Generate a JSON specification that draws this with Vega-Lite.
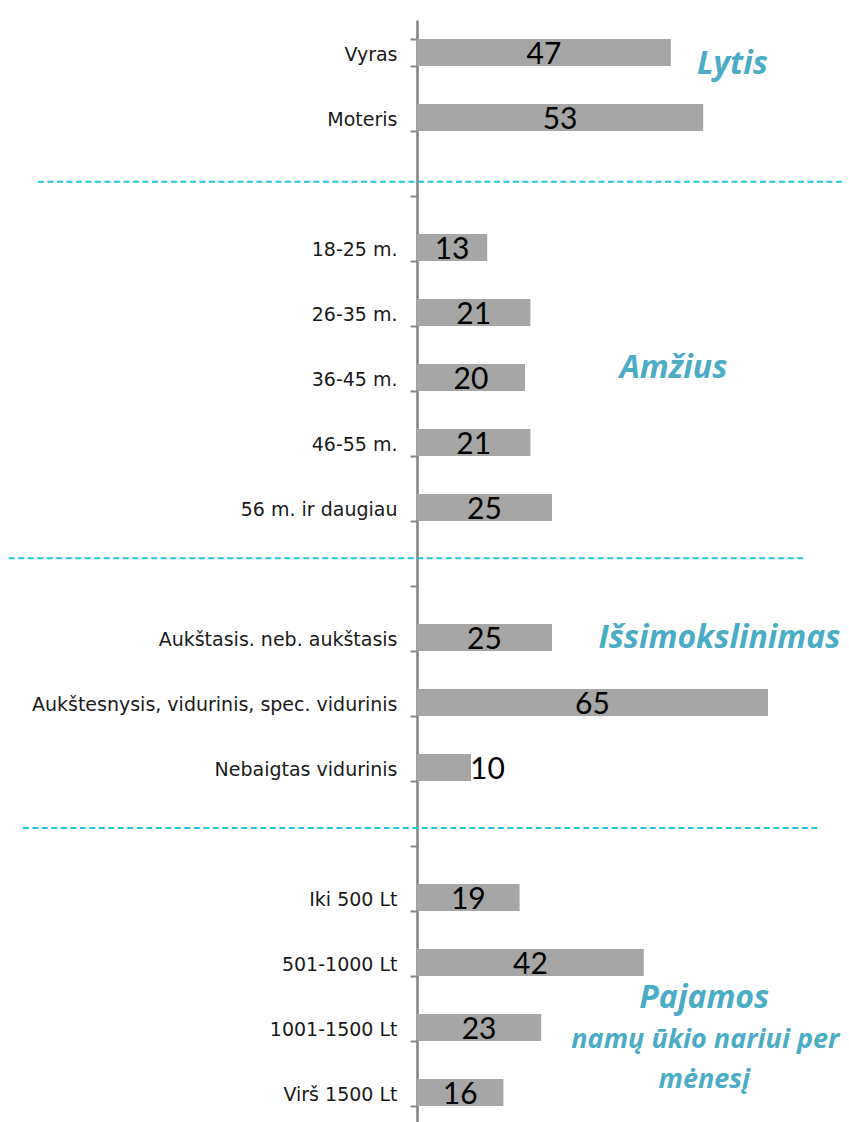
{
  "$schema": "https://vega.github.io/schema/vega-lite/v6.json",
  "autosize": {"type": "none"},
  "padding": {"left": 417, "top": 20, "right": 0, "bottom": 0},
  "width": 432,
  "height": 1105,
  "background": "white",
  "config": {"view": {"stroke": null}, "font": "Lato"},
  "datasets": {
    "bars": [
      {"cat": "Vyras", "value": 47},
      {"cat": "Moteris", "value": 53},
      {"cat": "18-25 m.", "value": 13},
      {"cat": "26-35 m.", "value": 21},
      {"cat": "36-45 m.", "value": 20},
      {"cat": "46-55 m.", "value": 21},
      {"cat": "56 m. ir daugiau", "value": 25},
      {"cat": "Aukštasis. neb. aukštasis", "value": 25},
      {"cat": "Aukštesnysis, vidurinis, spec. vidurinis", "value": 65},
      {"cat": "Nebaigtas vidurinis", "value": 10},
      {"cat": "Iki 500 Lt", "value": 19},
      {"cat": "501-1000 Lt", "value": 42},
      {"cat": "1001-1500 Lt", "value": 23},
      {"cat": "Virš 1500 Lt", "value": 16}
    ],
    "dividers": [
      {"pos": 2.49, "from": -70.2, "to": 79.1},
      {"pos": 8.28, "from": -75.6, "to": 72.2},
      {"pos": 12.43, "from": -73.0, "to": 74.8}
    ],
    "titles": [
      {"label": "Lytis", "px": 58.4, "pos": 0.68},
      {"label": "Amžius", "px": 47.5, "pos": 5.35},
      {"label": "Išsimokslinimas", "px": 56.0, "pos": 9.51},
      {"label": "Pajamos", "px": 53.2, "pos": 15.05}
    ],
    "subtitles": [
      {"label": "namų ūkio nariui per", "px": 53.4, "pos": 15.69},
      {"label": "mėnesį", "px": 53.2, "pos": 16.31}
    ]
  },
  "layer": [
    {
      "data": {"name": "bars"},
      "layer": [
        {
          "mark": {"type": "bar", "color": "#A6A6A6"},
          "encoding": {
            "y": {
              "field": "cat", "type": "nominal",
              "scale": {
                "domain": ["Vyras", "Moteris", " ", "18-25 m.", "26-35 m.", "36-45 m.", "46-55 m.", "56 m. ir daugiau", "  ", "Aukštasis. neb. aukštasis", "Aukštesnysis, vidurinis, spec. vidurinis", "Nebaigtas vidurinis", "   ", "Iki 500 Lt", "501-1000 Lt", "1001-1500 Lt", "Virš 1500 Lt"],
                "paddingInner": 0.585, "paddingOuter": 0.2925
              },
              "axis": {
                "title": null, "tickBand": "extent", "domainColor": "#868686", "domainWidth": 2.6,
                "tickColor": "#868686", "tickWidth": 2, "tickSize": 7, "labelPadding": 13, "labelOffset": 2,
                "labelFontSize": 19, "labelColor": "#1a1a1a", "labelFont": "DejaVu Sans", "labelLimit": 500
              }
            },
            "x": {"field": "value", "type": "quantitative", "scale": {"domain": [0, 80], "nice": false}, "axis": null}
          }
        },
        {
          "transform": [{"filter": "datum.value >= 12"}, {"calculate": "datum.value / 2", "as": "mid"}],
          "mark": {"type": "text", "fontSize": 30, "color": "#000000", "baseline": "middle", "align": "center", "dy": 2},
          "encoding": {
            "y": {"field": "cat", "type": "nominal"},
            "x": {"field": "mid", "type": "quantitative"},
            "text": {"field": "value", "type": "quantitative"}
          }
        },
        {
          "transform": [{"filter": "datum.value < 12"}],
          "mark": {"type": "text", "fontSize": 30, "color": "#000000", "baseline": "middle", "align": "left", "dy": 2, "dx": -1},
          "encoding": {
            "y": {"field": "cat", "type": "nominal"},
            "x": {"field": "value", "type": "quantitative"},
            "text": {"field": "value", "type": "quantitative"}
          }
        }
      ]
    },
    {
      "layer": [
        {
          "data": {"name": "dividers"},
          "mark": {"type": "rule", "color": "#22C7D6", "strokeWidth": 2, "strokeDash": [6, 3.5]},
          "encoding": {
            "y": {"field": "pos", "type": "quantitative", "scale": {"domain": [0, 17], "reverse": true, "nice": false, "zero": false}, "axis": null},
            "x": {"field": "from", "type": "quantitative"},
            "x2": {"field": "to"}
          }
        },
        {
          "data": {"name": "titles"},
          "mark": {"type": "text", "font": "Open Sans", "fontSize": 32, "fontWeight": "bold", "fontStyle": "italic", "color": "#4BACC6", "align": "center", "baseline": "middle"},
          "encoding": {
            "y": {"field": "pos", "type": "quantitative"},
            "x": {"field": "px", "type": "quantitative"},
            "text": {"field": "label", "type": "nominal"}
          }
        },
        {
          "data": {"name": "subtitles"},
          "mark": {"type": "text", "font": "Open Sans", "fontSize": 27, "fontWeight": "bold", "fontStyle": "italic", "color": "#4BACC6", "align": "center", "baseline": "middle"},
          "encoding": {
            "y": {"field": "pos", "type": "quantitative"},
            "x": {"field": "px", "type": "quantitative"},
            "text": {"field": "label", "type": "nominal"}
          }
        }
      ]
    }
  ],
  "resolve": {"scale": {"y": "independent"}, "axis": {"y": "independent"}}
}
